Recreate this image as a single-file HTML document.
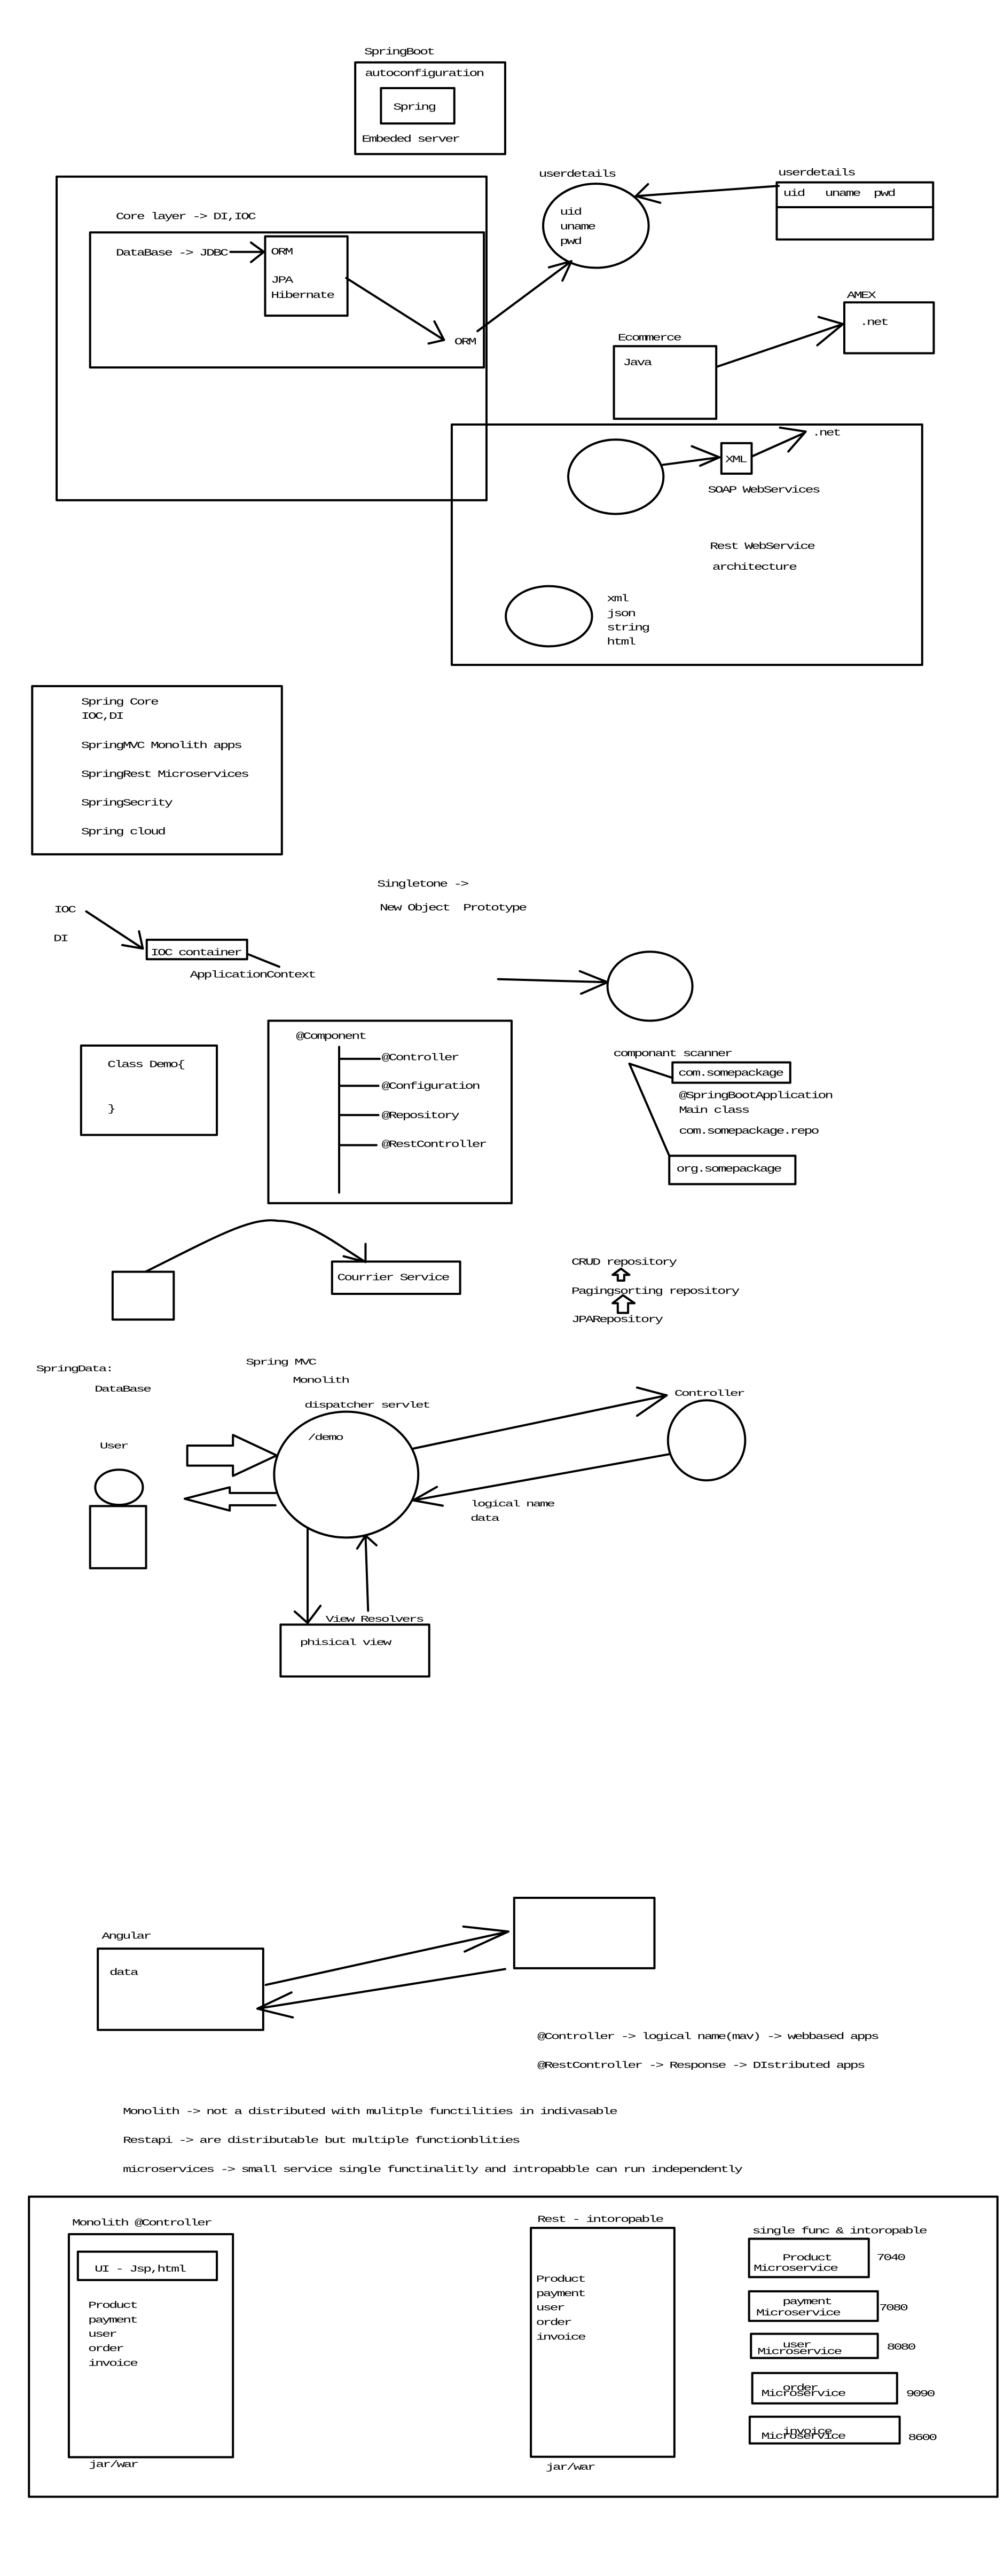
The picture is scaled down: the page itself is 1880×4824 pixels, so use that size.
<!DOCTYPE html>
<html><head><meta charset="utf-8"><style>
html,body{margin:0;padding:0;background:#fff;}
svg{display:block;}
text{font-family:"Liberation Mono",monospace;font-size:22px;letter-spacing:-2.4px;fill:#000;white-space:pre;}
.s{fill:none;stroke:#000;stroke-width:4;vector-effect:non-scaling-stroke;stroke-linecap:round;stroke-linejoin:round;}
</style></head><body>
<svg width="1880" height="4824" viewBox="0 0 1880 4824" xmlns="http://www.w3.org/2000/svg" xml:space="preserve">
<rect width="1880" height="4824" fill="#fff"/>
<!-- Group A -->
<g transform="translate(0,0) scale(1.205,0.829)">
<text x="566" y="123">SpringBoot</text>
<rect class="s" x="552" y="141" width="233" height="207"/>
<text x="567" y="172">autoconfiguration</text>
<rect class="s" x="592" y="199" width="114" height="80"/>
<text x="611" y="248">Spring</text>
<text x="562" y="320">Embeded server</text>
<rect class="s" x="88" y="399" width="668" height="731"/>
<text x="180" y="495">Core layer -&gt; DI,IOC</text>
<rect class="s" x="140" y="525" width="612" height="305"/>
<text x="180" y="577">DataBase -&gt; JDBC</text>
<path class="s" d="M358,569 L410,569 M390,548 L410,569 L390,592"/>
<rect class="s" x="412" y="534" width="128" height="179"/>
<text x="421" y="575">ORM</text>
<text x="421" y="639">JPA</text>
<text x="421" y="673">Hibernate</text>
<path class="s" d="M538,628 L690,768 M675,726 L690,768 L666,776"/>
<text x="706" y="778">ORM</text>
<path class="s" d="M742,748 L888,590 M853,604 L888,590 L874,634"/>
<ellipse class="s" cx="926" cy="510" rx="82" ry="95"/>
<text x="870" y="485">uid</text>
<text x="870" y="518">uname</text>
<text x="870" y="551">pwd</text>
<text x="837" y="399">userdetails</text>
<path class="s" d="M1210,420 L988,443 M1007,416 L988,443 L1026,458"/>
<text x="1209" y="396">userdetails</text>
<rect class="s" x="1207" y="412" width="243" height="129"/>
<path class="s" d="M1207,468 L1450,468"/>
<text x="1217" y="443">uid   uname  pwd</text>
<text x="1316" y="673">AMEX</text>
<rect class="s" x="1312" y="683" width="139" height="115"/>
<text x="1336" y="734">.net</text>
<text x="960" y="769">Ecommerce</text>
<rect class="s" x="954" y="782" width="159" height="164"/>
<text x="968" y="825">Java</text>
<path class="s" d="M1115,828 L1310,732 M1272,716 L1310,732 L1270,780"/>
<rect class="s" x="702" y="959" width="731" height="543"/>
<ellipse class="s" cx="957" cy="1077" rx="74" ry="84"/>
<path class="s" d="M1030,1050 L1118,1033 M1075,1008 L1118,1033 L1088,1052"/>
<rect class="s" x="1121" y="1001" width="47" height="69"/>
<text x="1127" y="1044">XML</text>
<path class="s" d="M1170,1030 L1250,978 M1212,966 L1252,975 L1225,1020"/>
<text x="1262" y="984">.net</text>
<text x="1100" y="1113">SOAP WebServices</text>
<text x="1103" y="1240">Rest WebService</text>
<text x="1107" y="1287">architecture</text>
<ellipse class="s" cx="853" cy="1392" rx="67" ry="68"/>
<text x="943" y="1358">xml</text>
<text x="943" y="1392">json</text>
<text x="943" y="1424">string</text>
<text x="943" y="1456">html</text>
</g>
<!-- Group B -->
<g transform="translate(0,1250) scale(1.205,0.829)">
<rect class="s" x="50" y="42" width="388" height="380"/>
<text x="126" y="84">Spring Core</text>
<text x="126" y="116">IOC,DI</text>
<text x="126" y="182">SpringMVC Monolith apps</text>
<text x="126" y="247">SpringRest Microservices</text>
<text x="126" y="312">SpringSecrity</text>
<text x="126" y="377">Spring cloud</text>
<text x="586" y="495">Singletone -&gt;</text>
<text x="590" y="549">New Object  Prototype</text>
<text x="84" y="553">IOC</text>
<text x="83" y="618">DI</text>
<path class="s" d="M134,551 L222,635 M190,627 L222,635 L216,596"/>
<rect class="s" x="228" y="615" width="156" height="44"/>
<text x="234" y="650">IOC container</text>
<path class="s" d="M386,648 L434,676"/>
<text x="295" y="700">ApplicationContext</text>
<path class="s" d="M774,704 L944,711 M901,686 L944,711 L903,737"/>
<ellipse class="s" cx="1010" cy="720" rx="66" ry="78"/>
<rect class="s" x="417" y="798" width="378" height="412"/>
<text x="460" y="839">@Component</text>
<path class="s" d="M527,857 L527,1186 M527,884 L590,884 M527,945 L588,945 M527,1011 L588,1011 M527,1079 L585,1079"/>
<text x="593" y="887">@Controller</text>
<text x="593" y="952">@Configuration</text>
<text x="593" y="1018">@Repository</text>
<text x="593" y="1083">@RestController</text>
<rect class="s" x="126" y="854" width="211" height="202"/>
<text x="167" y="903">Class Demo{</text>
<text x="167" y="1003">}</text>
<text x="953" y="878">componant scanner</text>
<rect class="s" x="1045" y="892" width="183" height="46"/>
<text x="1054" y="922">com.somepackage</text>
<text x="1055" y="973">@SpringBootApplication</text>
<text x="1055" y="1006">Main class</text>
<text x="1055" y="1053">com.somepackage.repo</text>
<rect class="s" x="1040" y="1103" width="196" height="64"/>
<text x="1051" y="1139">org.somepackage</text>
<path class="s" d="M1045,927 L978,895 L1040,1103"/>
<path class="s" d="M226,1365 C330,1290 390,1240 432,1250 C480,1250 520,1300 568,1343 M534,1330 L568,1343 L568,1302"/>
<rect class="s" x="175" y="1365" width="95" height="108"/>
<rect class="s" x="516" y="1342" width="199" height="73"/>
<text x="524" y="1384">Courrier Service</text>
<text x="888" y="1349">CRUD repository</text>
<text x="888" y="1415">Pagingsorting repository</text>
<text x="888" y="1479">JPARepository</text>
<path class="s" d="M960,1385 L960,1372 L952,1372 L965,1358 L978,1372 L970,1372 L970,1385 Z"/>
<path class="s" d="M960,1458 L960,1436 L952,1436 L968,1418 L986,1436 L976,1436 L976,1458 Z"/>
</g>
<!-- Group C -->
<g transform="translate(0,2450) scale(1.205,0.7653)">
<text x="56" y="154">SpringData:</text>
<text x="147" y="204">DataBase</text>
<text x="382" y="138">Spring MVC</text>
<text x="455" y="182">Monolith</text>
<text x="473" y="243">dispatcher servlet</text>
<ellipse class="s" cx="538" cy="407" rx="112" ry="154"/>
<text x="478" y="322">/demo</text>
<text x="155" y="343">User</text>
<ellipse class="s" cx="185" cy="438" rx="37" ry="43"/>
<rect class="s" x="140" y="484" width="87" height="152"/>
<path class="s" d="M291,336 L362,336 L362,310 L430,360 L362,410 L362,385 L291,385 Z"/>
<path class="s" d="M428,452 L357,452 L357,438 L287,466 L357,495 L357,482 L428,482"/>
<path class="s" d="M643,343 L1036,213 M990,194 L1036,213 L990,263"/>
<text x="1048" y="214">Controller</text>
<ellipse class="s" cx="1098" cy="323" rx="60" ry="98"/>
<path class="s" d="M1040,357 L642,470 M679,437 L642,470 L688,483"/>
<text x="731" y="485">logical name</text>
<text x="731" y="520">data</text>
<path class="s" d="M478,540 L478,770 M458,742 L478,770 L498,728"/>
<path class="s" d="M572,740 L568,556 M555,588 L568,556 L585,580"/>
<text x="506" y="767">View Resolvers</text>
<rect class="s" x="436" y="774" width="231" height="127"/>
<text x="466" y="824">phisical view</text>
</g>
<!-- Group D -->
<g transform="translate(0,3600) scale(1.205,0.7806)">
<rect class="s" x="799" y="-59" width="218" height="169"/>
<text x="158" y="39">Angular</text>
<rect class="s" x="152" y="63" width="257" height="195"/>
<text x="170" y="126">data</text>
<path class="s" d="M413,150 L790,22 M720,10 L790,22 L722,70"/>
<path class="s" d="M785,112 L400,207 M453,168 L400,207 L455,228"/>
<text x="835" y="280">@Controller -&gt; logical name(mav) -&gt; webbased apps</text>
<text x="835" y="349">@RestController -&gt; Response -&gt; DIstributed apps</text>
<text x="191" y="460">Monolith -&gt; not a distributed with mulitple functilities in indivasable</text>
<text x="191" y="529">Restapi -&gt; are distributable but multiple functionblities</text>
<text x="191" y="599">microservices -&gt; small service single functinalitly and intropabble can run independently</text>
<rect class="s" x="45" y="658" width="1505" height="720"/>
<text x="112" y="727">Monolith @Controller</text>
<rect class="s" x="107" y="748" width="255" height="535"/>
<rect class="s" x="121" y="790" width="216" height="68"/>
<text x="147" y="838">UI - Jsp,html</text>
<text x="137" y="925">Product</text>
<text x="137" y="960">payment</text>
<text x="137" y="994">user</text>
<text x="137" y="1029">order</text>
<text x="137" y="1064">invoice</text>
<text x="138" y="1307">jar/war</text>
<text x="835" y="719">Rest - intoropable</text>
<rect class="s" x="825" y="733" width="223" height="549"/>
<text x="833" y="862">Product</text>
<text x="833" y="897">payment</text>
<text x="833" y="931">user</text>
<text x="833" y="966">order</text>
<text x="833" y="1001">invoice</text>
<text x="848" y="1313">jar/war</text>
<text x="1169" y="746">single func &amp; intoropable</text>
<rect class="s" x="1164" y="759" width="186" height="92"/>
<text x="1216" y="811">Product</text><text x="1171" y="836">Microservice</text><text x="1362" y="810">7040</text>
<rect class="s" x="1164" y="885" width="200" height="71"/>
<text x="1216" y="916">payment</text><text x="1175" y="943">Microservice</text><text x="1366" y="931">7080</text>
<rect class="s" x="1167" y="987" width="197" height="58"/>
<text x="1216" y="1020">user</text><text x="1177" y="1036">Microservice</text><text x="1378" y="1025">8080</text>
<rect class="s" x="1169" y="1081" width="225" height="73"/>
<text x="1216" y="1123">order</text><text x="1183" y="1136">Microservice</text><text x="1408" y="1137">9090</text>
<rect class="s" x="1165" y="1186" width="233" height="64"/>
<text x="1216" y="1227">invoice</text><text x="1183" y="1239">Microservice</text><text x="1411" y="1242">8600</text>
</g>
</svg>
</body></html>
